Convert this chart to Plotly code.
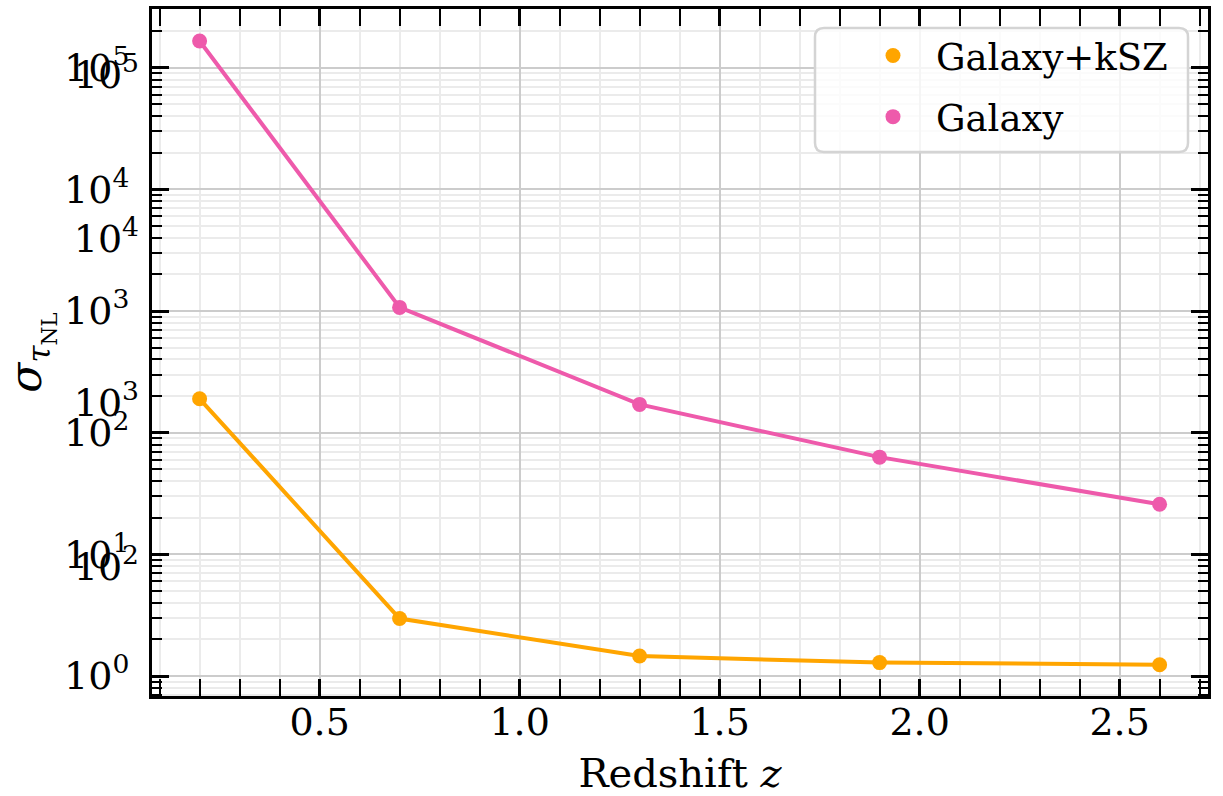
import plotly.graph_objects as go

redshift = [0.2, 0.7, 1.3, 1.9, 2.6]
sigma_gal_ksz = [190, 2.97, 1.46, 1.29, 1.24]
sigma_gal = [1.66e5, 1072, 171, 63, 25.8]

series_names = ["Galaxy+kSZ", "Galaxy"]
series_colors = ["#FFA500", "#EE5AAB"]

x_tickvals = [0.5, 1.0, 1.5, 2.0, 2.5]
x_ticktext = ["0.5", "1.0", "1.5", "2.0", "2.5"]
y_tickvals = [1, 10, 100, 1e3, 1e4, 1e5]
y_ticktext = ["10<sup>0</sup>", "10<sup>1</sup>", "10<sup>2</sup>",
              "10<sup>3</sup>", "10<sup>4</sup>", "10<sup>5</sup>"]
y2_tickvals = [100, 1e3, 1e4, 1e5]
y2_ticktext = ["10<sup>2</sup>", "10<sup>3</sup>", "10<sup>4</sup>", "10<sup>5</sup>"]

FONT = "DejaVu Serif"

fig = go.Figure()
for vals, name, col in zip([sigma_gal_ksz, sigma_gal], series_names, series_colors):
    fig.add_trace(go.Scatter(x=redshift, y=vals, mode="lines",
                             line=dict(color=col, width=4), showlegend=False,
                             hoverinfo="skip"))
for vals, name, col in zip([sigma_gal_ksz, sigma_gal], series_names, series_colors):
    fig.add_trace(go.Scatter(x=redshift, y=vals, mode="markers", name=name,
                             legendgroup=name,
                             marker=dict(color=col, size=15)))
# empty trace to activate the overlaid label axis
fig.add_trace(go.Scatter(x=[], y=[], yaxis="y2", showlegend=False, hoverinfo="skip"))

axis_common = dict(
    showline=True, linecolor="black", linewidth=3, mirror="allticks",
    ticks="inside", ticklen=17, tickwidth=2.5, tickcolor="black",
    showgrid=True, gridcolor="#cccccc", gridwidth=1.5, zeroline=False,
    tickfont=dict(family=FONT, size=38, color="black"),
    automargin=False,
)

# legend frame (rounded rectangle in paper coordinates)
W_PLOT, H_PLOT = 1056.0, 687.0
lx0, lx1 = (815 - 152) / W_PLOT, (1188 - 152) / W_PLOT
ly0, ly1 = (696 - 152) / H_PLOT, (696 - 28) / H_PLOT
rx, ry = 9 / W_PLOT, 9 / H_PLOT
frame_path = (
    f"M {lx0+rx},{ly1} L {lx1-rx},{ly1} Q {lx1},{ly1} {lx1},{ly1-ry} "
    f"L {lx1},{ly0+ry} Q {lx1},{ly0} {lx1-rx},{ly0} "
    f"L {lx0+rx},{ly0} Q {lx0},{ly0} {lx0},{ly0+ry} "
    f"L {lx0},{ly1-ry} Q {lx0},{ly1} {lx0+rx},{ly1} Z"
)

fig.update_layout(
    width=1223, height=796,
    margin=dict(l=152, r=15, t=9, b=100),
    paper_bgcolor="white", plot_bgcolor="white",
    font=dict(family=FONT, color="black"),
    xaxis=dict(
        **axis_common,
        range=[0.081, 2.721],
        tickvals=x_tickvals, ticktext=x_ticktext,
        minor=dict(dtick=0.1, ticks="inside", ticklen=10, tickwidth=2,
                   tickcolor="black", showgrid=True, gridcolor="#ebebeb", gridwidth=1.5),
        title=dict(text="Redshift <i>z</i>", font=dict(family=FONT, size=40), standoff=19),
        ticklabelstandoff=-10,
    ),
    yaxis=dict(
        **axis_common,
        type="log",
        range=[-0.164, 5.483],
        tickvals=y_tickvals, ticktext=y_ticktext,
        minor=dict(dtick="D1", ticks="inside", ticklen=10, tickwidth=2,
                   tickcolor="black", showgrid=True, gridcolor="#ebebeb", gridwidth=1.5),
        title=dict(text="<i>σ</i><sub><i>τ</i><sub>NL</sub></sub>",
                   font=dict(family=FONT, size=44), standoff=14),
        ticklabelstandoff=12,
    ),
    yaxis2=dict(
        type="log", overlaying="y", side="left", anchor="x",
        range=[1.208, 5.403],
        tickvals=y2_tickvals, ticktext=y2_ticktext,
        showgrid=False, zeroline=False, showline=False, ticks="",
        tickfont=dict(family=FONT, size=38, color="black"),
        ticklabelstandoff=12, automargin=False,
    ),
    shapes=[dict(type="path", xref="paper", yref="paper", path=frame_path,
                 fillcolor="rgba(255,255,255,0.8)",
                 line=dict(color="#d4d4d4", width=2.5), layer="above")],
    legend=dict(
        x=(850 - 152) / W_PLOT, y=(696 - 25) / H_PLOT,
        xanchor="left", yanchor="top",
        bgcolor="rgba(0,0,0,0)", borderwidth=0,
        font=dict(family=FONT, size=37, color="black"),
        itemwidth=76, tracegroupgap=10,
    ),
)

fig.write_html("out.html")
